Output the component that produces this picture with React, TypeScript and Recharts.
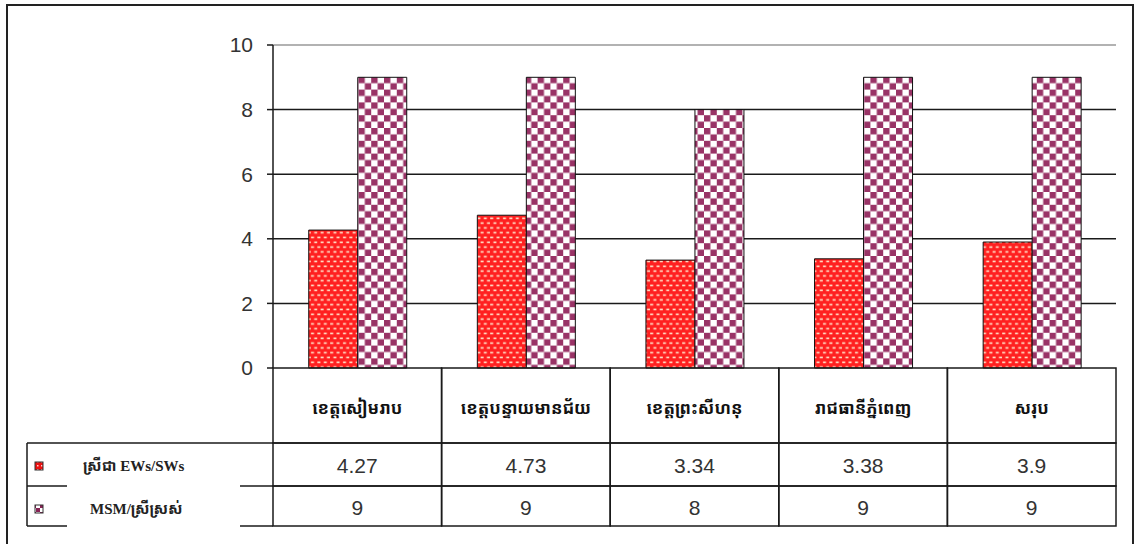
import React from 'react';
import { BarChart, Bar, XAxis, YAxis, CartesianGrid, ReferenceLine } from 'recharts';

const categories = ['ខេត្តសៀមរាប', 'ខេត្តបន្ទាយមានជ័យ', 'ខេត្តព្រះសីហនុ', 'រាជធានីភ្នំពេញ', 'សរុប'];
const ewsValues = [4.27, 4.73, 3.34, 3.38, 3.9];
const msmValues = [9, 9, 8, 9, 9];
const seriesNames = ['ស្រីជា EWs/SWs', 'MSM/ស្រីស្រស់'];
const yTicks = [0, 2, 4, 6, 8, 10];

const data = categories.map((name, i) => ({ name, ews: ewsValues[i], msm: msmValues[i] }));

const KHMER = '"Khmer OS", "Noto Sans Khmer", "Noto Serif Khmer", "Noto Sans", sans-serif';
const NUM = '"Liberation Sans", Arial, sans-serif';
const LINE = '#1a1a1a';

const CAT_H = 75;
const ROW1_H = 43;
const ROW2_H = 40;
const LEGEND_LEFT = 27;

const half = (payload: any) => (payload && payload.offset) || 84.3;

function CategoryTick(props: any) {
  const { x, y, payload } = props;
  const h = half(payload);
  return (
    <g>
      <rect x={x - h} y={y} width={2 * h} height={CAT_H} fill="none" stroke={LINE} strokeWidth={1.5} />
      <text x={x} y={y + 39} textAnchor="middle" dominantBaseline="central" fontFamily={KHMER} fontWeight="bold" fontSize={17} fill="#111">
        {payload.value}
      </text>
    </g>
  );
}

function makeRowTick(values: number[], rowH: number, row: number) {
  return function RowTick(props: any) {
    const { x, y, payload, index } = props;
    const h = half(payload);
    const left = x - h;
    return (
      <g>
        <rect x={left} y={y} width={2 * h} height={rowH} fill="none" stroke={LINE} strokeWidth={1.5} />
        <text x={x} y={y + rowH / 2 + 1} textAnchor="middle" dominantBaseline="central" fontFamily={NUM} fontSize={21} fill="#333">
          {values[index]}
        </text>
        {index === 0 && (
          <g>
            {row === 0 && <line x1={LEGEND_LEFT} x2={left} y1={y} y2={y} stroke={LINE} strokeWidth={1.5} />}
            <line x1={LEGEND_LEFT} x2={LEGEND_LEFT} y1={y} y2={y + rowH} stroke={LINE} strokeWidth={1.5} />
            <line x1={LEGEND_LEFT} x2={67} y1={y + rowH} y2={y + rowH} stroke={LINE} strokeWidth={1.5} />
            <line x1={240} x2={left} y1={y + rowH} y2={y + rowH} stroke={LINE} strokeWidth={1.5} />
            <rect x={35} y={y + 19} width={8} height={8} fill={row === 0 ? 'url(#pRedKey)' : 'url(#pChkKey)'} stroke="#333" strokeWidth={1} />
            <text x={row === 0 ? 83 : 90} y={y + 23} dominantBaseline="central" fontFamily={'"Liberation Serif", "Times New Roman", ' + KHMER} fontWeight="bold" fontSize={15} fill="#222">
              {seriesNames[row]}
            </text>
          </g>
        )}
      </g>
    );
  };
}

const Row1Tick = makeRowTick(ewsValues, ROW1_H, 0);
const Row2Tick = makeRowTick(msmValues, ROW2_H, 1);

export default function App() {
  return (
    <div style={{ position: 'relative', width: 1135, height: 544, overflow: 'hidden', background: '#fff' }}>
      <style>{'body{margin:0}'}</style>
      <svg width={0} height={0} style={{ position: 'absolute' }}>
        <defs>
          <pattern id="pRed" width={6.4} height={9.6} patternUnits="userSpaceOnUse">
            <rect width={6.4} height={9.6} fill="#ff2020" />
            <rect x={0.6} y={1.5} width={3} height={1.6} fill="#ffe6cc" />
            <rect x={3.8} y={6.3} width={3} height={1.6} fill="#ffe6cc" />
            <rect x={-2.6} y={6.3} width={3} height={1.6} fill="#ffe6cc" />
          </pattern>
          <pattern id="pChk" width={12.8} height={12.8} patternUnits="userSpaceOnUse">
            <rect width={12.8} height={12.8} fill="#ffffff" />
            <rect x={0} y={0} width={6.4} height={6.4} fill="#993366" />
            <rect x={6.4} y={6.4} width={6.4} height={6.4} fill="#993366" />
          </pattern>
          <pattern id="pRedKey" width={4} height={4} patternUnits="userSpaceOnUse">
            <rect width={4} height={4} fill="#ee1111" />
            <rect x={1} y={1} width={1.5} height={1.5} fill="#ffcccc" />
          </pattern>
          <pattern id="pChkKey" width={8} height={8} patternUnits="userSpaceOnUse">
            <rect width={8} height={8} fill="#ffffff" />
            <rect x={0} y={0} width={4} height={4} fill="#882255" />
            <rect x={4} y={4} width={4} height={4} fill="#882255" />
          </pattern>
        </defs>
      </svg>
      <div
        style={{
          position: 'absolute',
          left: 6,
          top: 4,
          width: 1128,
          height: 580,
          border: '2px solid #222',
          boxSizing: 'border-box',
        }}
      />
      <div style={{ position: 'absolute', left: 0, top: 0 }}>
        <BarChart
          width={1135}
          height={544}
          data={data}
          margin={{ top: 45, right: 19, left: 213, bottom: 18 }}
          barCategoryGap="21.2%"
          barGap={0}
        >
          <CartesianGrid horizontal vertical={false} horizontalValues={[2, 4, 6, 8]} stroke={LINE} strokeWidth={1.5} />
          <XAxis dataKey="name" height={CAT_H} interval={0} tickSize={0} tickMargin={0} axisLine={false} tickLine={false} tick={<CategoryTick />} />
          <XAxis xAxisId="r1" dataKey="name" height={ROW1_H} interval={0} tickSize={0} tickMargin={0} axisLine={false} tickLine={false} tick={<Row1Tick />} />
          <XAxis xAxisId="r2" dataKey="name" height={ROW2_H} interval={0} tickSize={0} tickMargin={0} axisLine={false} tickLine={false} tick={<Row2Tick />} />
          <YAxis
            width={60}
            domain={[0, 10]}
            ticks={yTicks}
            interval={0}
            tickSize={6}
            tickMargin={14}
            axisLine={{ stroke: LINE, strokeWidth: 1.5 }}
            tickLine={{ stroke: LINE, strokeWidth: 1.5 }}
            tick={{ fontFamily: NUM, fontSize: 21, fill: '#333' }}
          />
          <YAxis yAxisId="r" orientation="right" width={0} tick={false} tickLine={false} axisLine={{ stroke: '#999', strokeWidth: 1.5 }} />
          <ReferenceLine y={10} stroke="#999" strokeWidth={1.5} />
          <Bar dataKey="ews" name={seriesNames[0]} fill="url(#pRed)" stroke="#111" strokeWidth={1} isAnimationActive={false} />
          <Bar dataKey="msm" name={seriesNames[1]} fill="url(#pChk)" stroke="#111" strokeWidth={1} isAnimationActive={false} />
        </BarChart>
      </div>
    </div>
  );
}
